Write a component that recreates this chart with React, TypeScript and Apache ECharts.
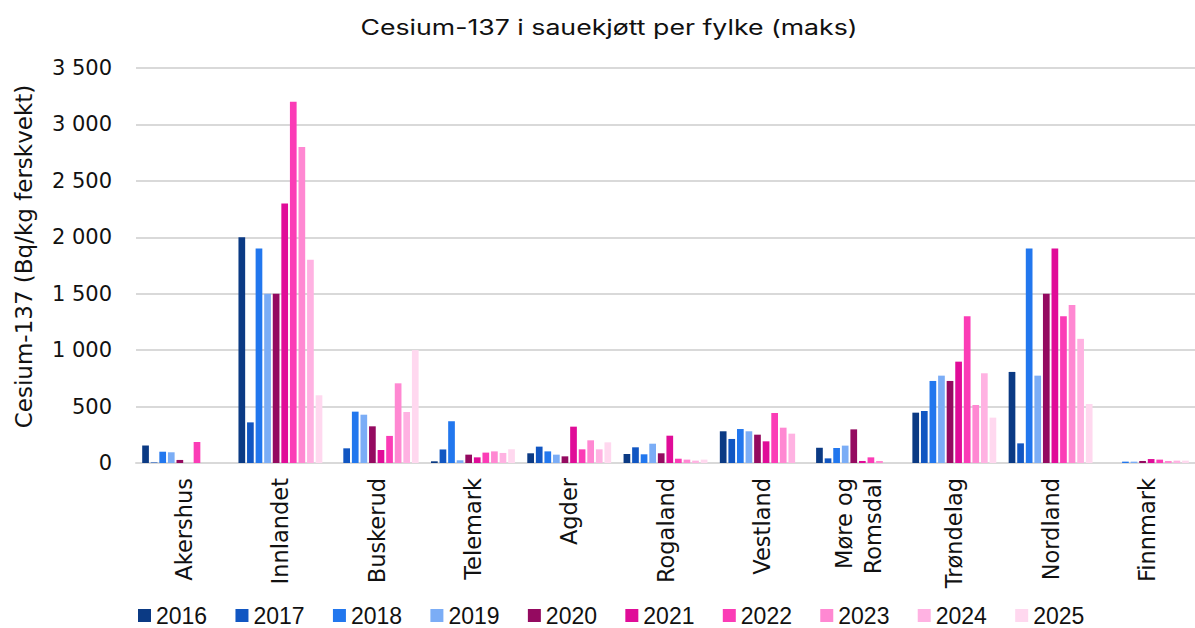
import React, { useEffect, useRef } from "react";
import * as echarts from "echarts";

const categories = [
  "Akershus",
  "Innlandet",
  "Buskerud",
  "Telemark",
  "Agder",
  "Rogaland",
  "Vestland",
  "Møre og\nRomsdal",
  "Trøndelag",
  "Nordland",
  "Finnmark",
];

const years = ["2016", "2017", "2018", "2019", "2020", "2021", "2022", "2023", "2024", "2025"];

const v2016 = [155, 2000, null, 15, 86, 80, 281, 135, 446, 807, null];
const v2017 = [5, 360, 130, 120, 145, 139, 213, 41, 461, 174, null];
const v2018 = [100, 1900, 455, 370, 103, 77, 301, 133, 727, 1900, 12];
const v2019 = [95, 1500, 428, 24, 74, 171, 281, 154, 774, 774, 12];
const v2020 = [27, 1500, 325, 74, 59, 86, 251, 298, 727, 1500, 18];
const v2021 = [null, 2300, 115, 50, 322, 242, 192, 18, 898, 1900, 35];
const v2022 = [186, 3200, 240, 92, 121, 38, 443, 50, 1300, 1300, 30];
const v2023 = [null, 2800, 706, 103, 201, 30, 313, 18, 514, 1400, 18];
const v2024 = [null, 1800, 452, 89, 121, 21, 260, null, 795, 1100, 21];
const v2025 = [null, 600, 1000, 121, 183, 30, null, null, 402, 523, 21];

const seriesValues = [v2016, v2017, v2018, v2019, v2020, v2021, v2022, v2023, v2024, v2025];

const colors = [
  "#0b3a84",
  "#1156c2",
  "#2277ee",
  "#7badf6",
  "#940a60",
  "#e00c98",
  "#fb3cb6",
  "#ff88d2",
  "#ffb2e2",
  "#ffd8ef",
];

const yTicks = { min: 0, max: 3500, interval: 500 };

const titleText = "Cesium-137 i sauekjøtt per fylke (maks)";
const yName = "Cesium-137 (Bq/kg ferskvekt)";

const fmt = (v: number) => {
  if (v >= 1000) {
    const t = Math.floor(v / 1000);
    const r = String(v % 1000).padStart(3, "0");
    return `${t} ${r}`;
  }
  return String(v);
};

export default function App() {
  const ref = useRef<HTMLDivElement>(null);
  useEffect(() => {
    document.body.style.margin = "0";
    if (!ref.current) return;
    const chart = echarts.init(ref.current, undefined, { renderer: "svg" });
    const wide = "'DejaVu Sans', sans-serif";
    const font = "'Liberation Sans', Arial, sans-serif";
    chart.setOption({
      animation: false,
      color: colors,
      graphic: [
        {
          type: "text",
          x: 609,
          y: 28,
          scaleX: 1.27,
          style: {
            text: titleText,
            fontFamily: "Inter, sans-serif",
            fontSize: 21,
            fill: "#111",
            textAlign: "center",
            textVerticalAlign: "middle",
          },
        },
      ],
      legend: {
        data: years,
        left: 138,
        top: 604,
        padding: 0,
        itemWidth: 13,
        itemHeight: 13,
        itemGap: 28.3,
        icon: "rect",
        textStyle: { fontFamily: font, fontSize: 23, color: "#111", lineHeight: 23 },
      },
      grid: { left: 136, top: 68, width: 1072, height: 395, containLabel: false },
      xAxis: {
        type: "category",
        data: categories,
        axisLine: { show: true, lineStyle: { color: "#d9d9d9", width: 2 } },
        axisTick: { show: false },
        axisLabel: {
          rotate: 90,
          interval: 0,
          margin: 15,
          fontFamily: wide,
          fontSize: 22.5,
          color: "#111",
          lineHeight: 29,
        },
      },
      yAxis: {
        type: "value",
        min: yTicks.min,
        max: yTicks.max,
        interval: yTicks.interval,
        name: yName,
        nameLocation: "middle",
        nameGap: 101,
        nameRotate: 90,
        nameTextStyle: { fontFamily: wide, fontSize: 23, color: "#111", padding: [0, 0, 0, 18] },
        axisLine: { show: false },
        axisTick: { show: false },
        splitLine: { lineStyle: { color: "#d9d9d9", width: 2 } },
        axisLabel: {
          formatter: fmt,
          fontFamily: wide,
          fontSize: 21,
          color: "#111",
          margin: 24,
        },
      },
      series: years.map((y, i) => ({
        name: y,
        type: "bar",
        data: seriesValues[i],
        barWidth: 6.7,
        barGap: "28%",
      })),
    });
    return () => chart.dispose();
  }, []);
  return <div ref={ref} style={{ width: 1195, height: 628 }} />;
}
